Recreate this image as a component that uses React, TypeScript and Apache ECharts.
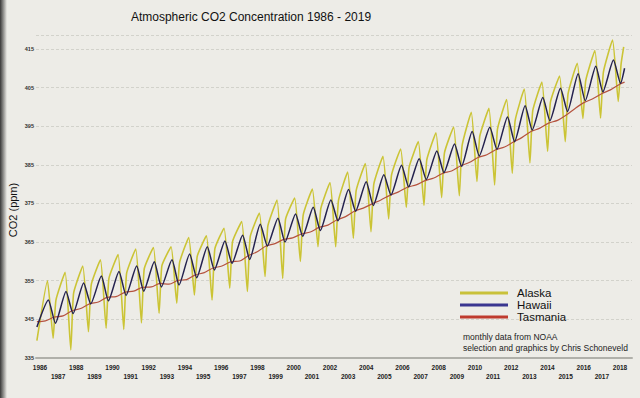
import React, { useEffect, useRef } from "react";
import * as echarts from "echarts";

// ---- data (ppm) ----
const years = [
  1986, 1987, 1988, 1989, 1990, 1991, 1992, 1993, 1994, 1995, 1996,
  1997, 1998, 1999, 2000, 2001, 2002, 2003, 2004, 2005, 2006, 2007,
  2008, 2009, 2010, 2011, 2012, 2013, 2014, 2015, 2016, 2017, 2018,
];

// Hawaii (Mauna Loa): May maxima and Oct minima
const hawaiiPeak = [
  350.0, 352.2, 354.4, 356.2, 357.4, 358.8, 359.9, 360.4, 361.9, 363.8, 365.3,
  366.8, 369.6, 371.2, 372.3, 374.0, 375.9, 378.6, 380.6, 382.4, 384.9, 386.6,
  388.6, 390.4, 393.6, 394.7, 397.4, 400.3, 402.4, 404.8, 408.6, 410.5, 412.1,
];
const hawaiiTrough = [
  344.0, 346.5, 349.0, 349.8, 351.2, 352.3, 353.4, 353.9, 355.8, 357.8, 359.5,
  360.5, 364.0, 365.0, 366.5, 368.0, 370.5, 373.0, 374.5, 377.2, 379.3, 381.2,
  383.0, 384.6, 387.3, 389.0, 391.0, 394.0, 396.4, 398.8, 401.6, 403.9, 406.1,
];
const hawaiiEnds = [343.0, 410.0];

// Alaska (Barrow): spring maxima, Aug minima, Nov recovery
const alaskaPeak = [
  355.0, 357.2, 358.8, 360.4, 361.8, 363.2, 363.6, 363.8, 366.2, 366.6, 368.6,
  370.3, 372.5, 375.9, 376.4, 378.7, 380.4, 383.1, 385.3, 387.2, 389.1, 391.0,
  393.3, 394.8, 398.6, 399.6, 401.9, 404.6, 406.4, 408.0, 411.3, 414.6, 417.3,
];
const alaskaTrough = [
  340.1, 337.1, 341.8, 342.7, 342.4, 344.1, 346.6, 349.2, 351.3, 350.0, 353.1,
  352.2, 356.1, 355.6, 360.0, 363.8, 363.8, 366.0, 367.7, 371.0, 374.0, 374.5,
  376.5, 377.0, 380.7, 379.8, 382.8, 385.5, 388.5, 391.0, 397.0, 397.1, 401.4,
];
const alaskaRecovery = [
  350.0, 351.8, 354.0, 355.6, 356.9, 358.1, 358.9, 359.7, 361.3, 363.3, 365.1,
  366.4, 369.2, 370.9, 372.0, 373.7, 375.8, 378.3, 380.0, 382.3, 384.4, 386.3,
  388.1, 390.0, 392.4, 394.2, 396.4, 399.0, 401.2, 403.4, 406.8, 409.0, 411.0,
];
const alaskaEnds = [339.5, 415.5];

// Tasmania (Cape Grim): early-year and late-year values
const tasmaniaEarly = [
  344.6, 345.9, 347.8, 349.5, 350.9, 352.3, 353.4, 354.1, 355.3, 357.1, 358.8,
  360.1, 362.5, 364.6, 366.1, 367.6, 369.4, 371.6, 373.8, 375.9, 378.0, 379.8,
  381.6, 383.4, 385.6, 387.6, 389.6, 392.1, 394.5, 396.5, 399.6, 402.1, 404.4,
];
const tasmaniaLate = [
  345.6, 347.2, 349.0, 350.7, 352.0, 353.3, 354.3, 355.1, 356.5, 358.3, 359.9,
  361.5, 364.0, 365.7, 367.1, 368.8, 370.7, 373.0, 374.9, 377.1, 379.2, 380.9,
  382.8, 384.7, 386.9, 388.9, 390.9, 393.6, 395.8, 397.9, 401.1, 403.4, 405.8,
];
const tasmaniaEnds = [344.4, 406.4];

const yTicks = [335, 345, 355, 365, 375, 385, 395, 405, 415];

// time of year (fraction) for each reading
const T_START = 1985.72;
const T_END = 2019.0;
const T_ALASKA_END = 2018.95;

function buildHawaii() {
  const pts: number[][] = [[T_START, hawaiiEnds[0]]];
  years.forEach((y, i) => {
    pts.push([y + 0.37, hawaiiPeak[i]]);
    pts.push([y + 0.77, hawaiiTrough[i]]);
  });
  pts.push([T_END, hawaiiEnds[1]]);
  return pts;
}
function buildAlaska() {
  const pts: number[][] = [[T_START, alaskaEnds[0]]];
  years.forEach((y, i) => {
    pts.push([y + 0.32, alaskaPeak[i]]);
    pts.push([y + 0.64, alaskaTrough[i]]);
    pts.push([y + 0.8, alaskaRecovery[i]]);
  });
  pts.push([T_ALASKA_END, alaskaEnds[1]]);
  return pts;
}
function buildTasmania() {
  const pts: number[][] = [[T_START, tasmaniaEnds[0]]];
  years.forEach((y, i) => {
    pts.push([y + 0.2, tasmaniaEarly[i]]);
    pts.push([y + 0.7, tasmaniaLate[i]]);
  });
  pts.push([T_END, tasmaniaEnds[1]]);
  return pts;
}

const FONT = '"Liberation Sans", Arial, sans-serif';

export default function App() {
  const ref = useRef<HTMLDivElement>(null);
  useEffect(() => {
    if (!ref.current) return;
    const chart = echarts.init(ref.current, null, { renderer: "svg" });
    const option: any = {
      animation: false,
      backgroundColor: "#edece7",
      grid: [
        { left: 36, right: 8, top: 35, bottom: 40 },
        { left: 40, right: 20, top: 35, bottom: 40 },
      ],
      xAxis: [
        {
          type: "value",
          gridIndex: 0,
          min: 1985.67,
          max: 2019.42,
          axisLabel: { show: false },
          axisTick: { show: false },
          splitLine: { show: false },
          axisLine: { show: true, onZero: false, lineStyle: { color: "#b0b0aa", width: 2 } },
        },
        {
          type: "value",
          gridIndex: 1,
          min: years[0],
          max: years[years.length - 1],
          interval: 1,
          axisLine: { show: false },
          axisTick: { show: false },
          splitLine: { show: false },
          axisLabel: {
            formatter: (v: number) => {
              const r = Math.round(v);
              return r % 2 === 0 ? String(r) : "\n" + r;
            },
            fontSize: 6.5,
            fontWeight: "bold",
            color: "#222",
            lineHeight: 8.5,
            margin: 5.5,
            fontFamily: FONT,
          },
        },
      ],
      yAxis: [
        {
          type: "value",
          gridIndex: 0,
          min: yTicks[0],
          max: 418.6,
          interval: 10,
          axisLine: { show: false },
          axisTick: { show: false },
          splitLine: { lineStyle: { color: "#d2d2cb", type: [3, 2], width: 1 } },
          axisLabel: {
            fontSize: 5.5,
            fontWeight: "bold",
            color: "#333",
            margin: 2,
            showMaxLabel: false,
            fontFamily: FONT,
          },
        },
        { type: "value", gridIndex: 1, show: false, min: 0, max: 1 },
      ],
      legend: {
        left: 460,
        top: 287,
        orient: "vertical",
        padding: 0,
        itemWidth: 48,
        itemHeight: 3,
        itemGap: 0,
        icon: "rect",
        textStyle: {
          fontSize: 11.5,
          color: "#111",
          lineHeight: 12,
          fontFamily: FONT,
          padding: [0, 0, 0, 4],
        },
        data: [
          { name: "Alaska", itemStyle: { color: "#c9c13a" } },
          { name: "Hawaii", itemStyle: { color: "#3a3690" } },
          { name: "Tasmania", itemStyle: { color: "#bf3b2e" } },
        ],
      },
      series: [
        {
          name: "Alaska",
          type: "line",
          xAxisIndex: 0,
          yAxisIndex: 0,
          data: buildAlaska(),
          showSymbol: false,
          smooth: 0.15,
          itemStyle: { color: "#c9c13a" },
          lineStyle: { color: "#cbc435", width: 1.6 },
          z: 2,
        },
        {
          name: "Hawaii",
          type: "line",
          xAxisIndex: 0,
          yAxisIndex: 0,
          data: buildHawaii(),
          showSymbol: false,
          smooth: 0.2,
          itemStyle: { color: "#3a3690" },
          lineStyle: { color: "#24224f", width: 1.5 },
          z: 4,
        },
        {
          name: "Tasmania",
          type: "line",
          xAxisIndex: 0,
          yAxisIndex: 0,
          data: buildTasmania(),
          showSymbol: false,
          smooth: 0.3,
          itemStyle: { color: "#bf3b2e" },
          lineStyle: { color: "#b5533f", width: 1.2 },
          z: 3,
        },
      ],
      graphic: [
        {
          type: "rect",
          shape: { x: 0, y: 0, width: 7, height: 398 },
          style: {
            fill: new echarts.graphic.LinearGradient(0, 0, 1, 0, [
              { offset: 0, color: "rgba(25,25,25,0.85)" },
              { offset: 1, color: "rgba(25,25,25,0)" },
            ]),
          },
          silent: true,
        },
        {
          type: "text",
          x: 251,
          y: 17,
          style: {
            text: "Atmospheric CO2 Concentration 1986 - 2019",
            fontSize: 12,
            fontFamily: FONT,
            fill: "#111",
            align: "center",
            verticalAlign: "middle",
          },
        },
        {
          type: "text",
          x: 13,
          y: 210,
          rotation: Math.PI / 2,
          style: {
            text: "CO2 (ppm)",
            fontSize: 11,
            fontFamily: FONT,
            fill: "#111",
            align: "center",
            verticalAlign: "middle",
          },
        },
        {
          type: "text",
          x: 463,
          y: 337,
          style: {
            text: "monthly data from NOAA",
            fontSize: 8.5,
            fontFamily: FONT,
            fill: "#222",
            align: "left",
            verticalAlign: "middle",
          },
        },
        {
          type: "text",
          x: 463,
          y: 348,
          style: {
            text: "selection and graphics by Chris Schoneveld",
            fontSize: 8.5,
            fontFamily: FONT,
            fill: "#222",
            align: "left",
            verticalAlign: "middle",
          },
        },
      ],
    };
    chart.setOption(option);
    return () => chart.dispose();
  }, []);
  return (
    <div
      ref={ref}
      style={{ position: "fixed", left: 0, top: 0, width: 640, height: 398, background: "#edece7" }}
    />
  );
}
